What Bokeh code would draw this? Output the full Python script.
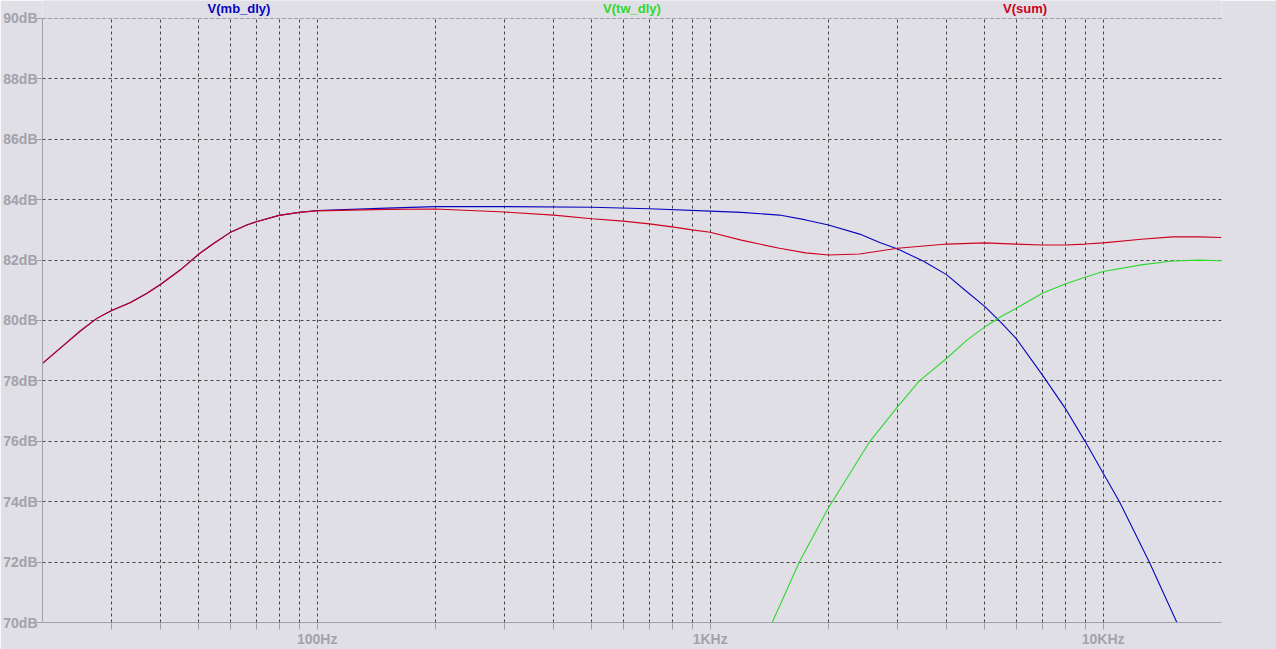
from bokeh.plotting import figure
from bokeh.models import FixedTicker, Label, BoxAnnotation
from bokeh.embed import file_html
from bokeh.resources import INLINE
import math

# ---- data ----
series_names = ["V(mb_dly)", "V(tw_dly)", "V(sum)"]

mb_freq = [20, 22.7, 25, 27.5, 30, 33.4, 36.9, 40, 44.8, 50, 54.5, 60, 66.2, 70, 80, 90,
           100, 150, 200, 300, 500, 700, 1000, 1200, 1500, 1750, 2000, 2400, 2700, 3000,
           3500, 4000, 4500, 5000, 5500, 6000, 7000, 8000, 9000, 10000, 11000, 13100, 15400]
mb_db = [78.58, 79.19, 79.66, 80.07, 80.33, 80.59, 80.90, 81.2, 81.67, 82.2, 82.55, 82.91,
         83.16, 83.27, 83.48, 83.58, 83.64, 83.72, 83.77, 83.77, 83.75, 83.70, 83.62, 83.58,
         83.49, 83.33, 83.16, 82.86, 82.58, 82.37, 81.95, 81.51, 80.95, 80.46, 79.93, 79.41,
         78.2, 77.1, 75.99, 74.94, 74.0, 72.0, 70.0]

tw_freq = [1438, 1686, 2000, 2550, 3000, 3407, 4000, 4500, 5000, 5500, 6000, 7000, 8000,
           9000, 10000, 12500, 15000, 17500, 20000]
tw_db = [70.0, 72.0, 73.8, 76.0, 77.15, 78.0, 78.75, 79.35, 79.79, 80.13, 80.4, 80.9,
         81.21, 81.43, 81.62, 81.84, 81.97, 82.0, 81.98]

sum_freq = [20, 22.7, 25, 27.5, 30, 33.4, 36.9, 40, 44.8, 50, 54.5, 60, 66.2, 70, 80, 90,
            100, 150, 200, 300, 400, 500, 600, 700, 800, 900, 1000, 1200, 1500, 1750,
            2000, 2400, 3000, 4000, 5000, 6000, 7000, 8000, 9000, 10000, 12500, 15000,
            17500, 20000]
sum_db = [78.58, 79.19, 79.66, 80.07, 80.33, 80.59, 80.90, 81.2, 81.67, 82.2, 82.55, 82.91,
          83.16, 83.27, 83.48, 83.58, 83.63, 83.68, 83.69, 83.59, 83.49, 83.37, 83.29, 83.20,
          83.10, 83.00, 82.92, 82.66, 82.39, 82.24, 82.17, 82.20, 82.39, 82.53, 82.57, 82.53,
          82.50, 82.50, 82.53, 82.57, 82.69, 82.77, 82.77, 82.75]

x_major_ticks = [100, 1000, 10000]
x_major_labels = ["100Hz", "1KHz", "10KHz"]
x_minor_ticks = [30, 40, 50, 60, 70, 80, 90,
                 200, 300, 400, 500, 600, 700, 800, 900,
                 2000, 3000, 4000, 5000, 6000, 7000, 8000, 9000]
y_ticks = [70, 72, 74, 76, 78, 80, 82, 84, 86, 88, 90]
y_labels = ["70dB", "72dB", "74dB", "76dB", "78dB", "80dB", "82dB", "84dB", "86dB", "88dB", "90dB"]

x_lo, x_hi = 20, 20000
y_lo, y_hi = 70, 90

# ---- styles / layout ----
W, H = 1276, 649
TOP_PAD = 18          # px of label strip above the plotted box
BOX_H = 605           # px height of the plotted box
BG = "#E1DFE6"
GRID = "#454545"
FRAME = "#A2A2A6"
TICKTXT = "#A2A2AA"
COLORS = ["#0606BE", "#2ED82E", "#CC0020"]
FONT = "Liberation Sans"

y_top = y_hi + (y_hi - y_lo) * TOP_PAD / BOX_H

p = figure(width=W, height=H, x_axis_type="log",
           x_range=(x_lo, x_hi), y_range=(y_lo, y_top),
           output_backend="svg", toolbar_location=None,
           background_fill_color=BG, border_fill_color=BG,
           min_border_left=42, min_border_right=55, min_border_top=0,
           min_border_bottom=26)
p.outline_line_color = None

xt = FixedTicker(ticks=x_major_ticks, minor_ticks=x_minor_ticks)
yt = FixedTicker(ticks=y_ticks, minor_ticks=[])
p.xaxis.ticker = xt
p.yaxis.ticker = yt
p.xgrid.ticker = xt
p.ygrid.ticker = yt

for g in (p.xgrid, p.ygrid):
    g.grid_line_color = GRID
    g.grid_line_dash = "3 3"
    g.grid_line_width = 1
p.xgrid.minor_grid_line_color = GRID
p.xgrid.minor_grid_line_dash = "3 3"
p.xgrid.minor_grid_line_width = 1

p.xaxis.major_label_overrides = {float(t): s for t, s in zip(x_major_ticks, x_major_labels)}
p.yaxis.major_label_overrides = {float(t): s for t, s in zip(y_ticks, y_labels)}
p.yaxis.bounds = (y_lo, y_hi)

for ax in (p.xaxis[0], p.yaxis[0]):
    ax.axis_line_color = FRAME
    ax.major_tick_line_color = FRAME
    ax.minor_tick_line_color = FRAME
    ax.major_tick_in = 0
    ax.minor_tick_in = 0
    ax.major_tick_out = 7
    ax.minor_tick_out = 7
    ax.major_label_text_color = TICKTXT
    ax.major_label_text_font = FONT
    ax.major_label_text_font_style = "bold"
    ax.major_label_text_font_size = "14px"
p.xaxis.major_label_standoff = 1
p.yaxis.major_label_standoff = -2
p.yaxis.minor_tick_out = 0

freqs = [mb_freq, tw_freq, sum_freq]
dbs = [mb_db, tw_db, sum_db]
for f, d, c in zip(freqs, dbs, COLORS):
    p.line(f, d, line_color=c, line_width=1.1)

# strip above the plotted box: hide grid there, draw the box border
p.add_layout(BoxAnnotation(bottom=y_hi, fill_color=BG, fill_alpha=1.0, line_color=None))
p.add_layout(BoxAnnotation(left=x_lo, right=x_hi, bottom=y_lo, top=y_hi,
                           fill_alpha=0.0, line_color=FRAME, line_width=1))

# trace names above the box, centred in thirds of the x range
lx0, lx1 = math.log10(x_lo), math.log10(x_hi)
for i, (name, c) in enumerate(zip(series_names, COLORS)):
    fx = 10 ** (lx0 + (i + 0.5) / 3 * (lx1 - lx0))
    p.add_layout(Label(x=fx, y=y_hi, text=name, text_color=c,
                       text_font=FONT, text_font_style="bold", text_font_size="13px",
                       text_align="center", text_baseline="middle", y_offset=10))

open("out.html", "w").write(file_html(p, INLINE))
